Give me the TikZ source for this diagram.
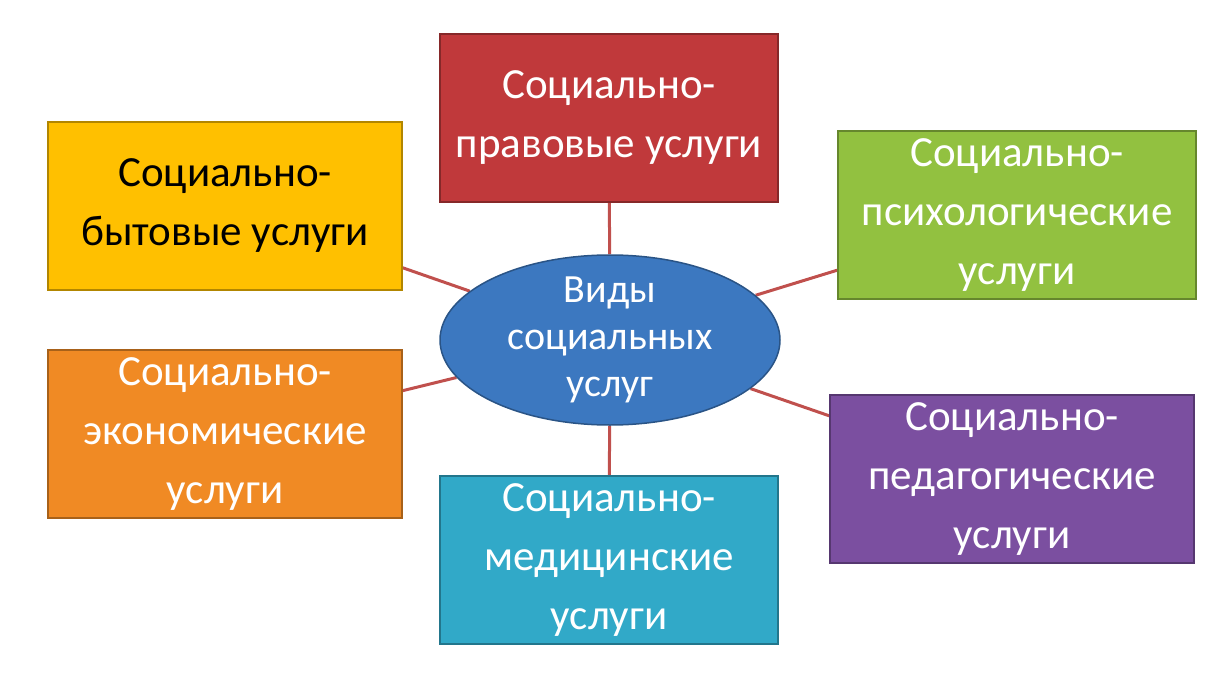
\documentclass[tikz,border=0pt]{standalone}
\usepackage{fontspec}
\setmainfont{Carlito}
\usetikzlibrary{shapes.geometric,backgrounds}
\definecolor{cred}{HTML}{C0393B}
\definecolor{cyel}{HTML}{FFC000}
\definecolor{cgrn}{HTML}{92C140}
\definecolor{corg}{HTML}{F08A24}
\definecolor{cpur}{HTML}{7B4FA0}
\definecolor{ccya}{HTML}{31A9C8}
\definecolor{cblu}{HTML}{3C78C0}
\definecolor{cline}{HTML}{C0504D}
\begin{document}
\begin{tikzpicture}[x=1pt,y=-1pt,
  box/.style={draw=#1!70!black,line width=1.5pt,fill=#1,text=white,align=center,
    minimum width=350pt,minimum height=168pt,font=\fontsize{43}{59}\selectfont,inner sep=0pt},
  link/.style={cline,line width=3pt}]
\useasboundingbox (0,0) rectangle (1226,682);
\node[box=cred,minimum width=338pt] (pr) at (609,118) {Социально-\\правовые услуги};
\node[box=cyel,minimum width=354pt,text=black] (by) at (225,206) {Социально-\\бытовые услуги};
\node[box=cgrn,minimum width=358pt] (ps) at (1017,215) {Социально-\\психологические\\услуги};
\node[box=corg,minimum width=354pt] (ek) at (225,434) {Социально-\\экономические\\услуги};
\node[box=cpur,minimum width=364pt] (pe) at (1012,479) {Социально-\\педагогические\\услуги};
\node[box=ccya,minimum width=338pt] (me) at (609,560) {Социально-\\медицинские\\услуги};
\node[ellipse,draw=cblu!70!black,line width=1.5pt,fill=cblu,
  minimum width=340pt,minimum height=170pt,inner sep=0pt] (c) at (610,340) {};
\node[text=white,align=center,inner sep=0pt,font=\fontsize{40}{47}\selectfont] (ct) at (c.center) {Виды\\социальных\\услуг};
\begin{pgfonlayer}{background}
\draw[link] (c) -- (pr);
\draw[link] (c) -- (by);
\draw[link] (c) -- (ps);
\draw[link] (c) -- (ek);
\draw[link] (c) -- (pe);
\draw[link] (c) -- (me);
\end{pgfonlayer}
\end{tikzpicture}
\end{document}
